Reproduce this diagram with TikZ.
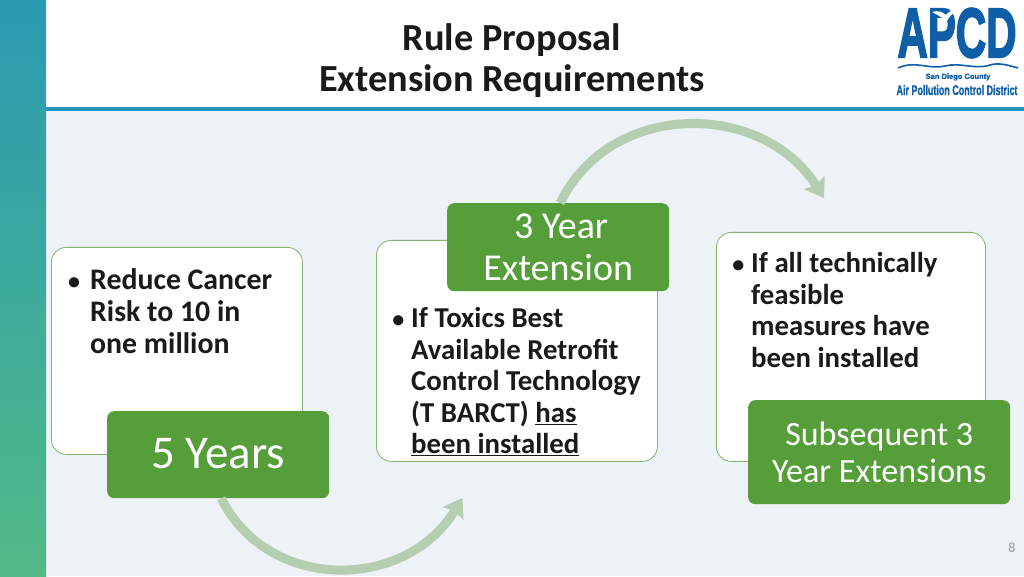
\documentclass[tikz,border=0pt]{standalone}
\usepackage{fontspec}
\setmainfont{Carlito}
\newfontfamily\logoheavy[FakeBold=3]{Liberation Sans Bold}
\newfontfamily\logosmall[FakeBold=1.2]{Liberation Sans Bold}
\usetikzlibrary{arrows.meta,calc}
\definecolor{bgc}{HTML}{EDF2F6}
\definecolor{barc}{HTML}{2492BE}
\definecolor{sidetop}{HTML}{2A9AB2}
\definecolor{sidebot}{HTML}{52BA87}
\definecolor{greenbox}{HTML}{559E3A}
\definecolor{greenline}{HTML}{82B56C}
\definecolor{arcc}{HTML}{B5CDB0}
\definecolor{logoc}{HTML}{0F5FA8}
\definecolor{titlec}{HTML}{1A1A1A}
\tikzset{
  x=1pt,y=1pt,
  panel/.style={draw=greenline,line width=.8pt,fill=white,rounded corners=15pt,inner sep=0pt,anchor=north west},
  tag/.style={fill=greenbox,rounded corners=7pt,text=white,align=center,inner sep=0pt,anchor=north west},
  body/.style={anchor=north west,align=left,inner sep=0pt,text=titlec,font=\fontsize{28.8}{31.6}\selectfont\bfseries},
  arcline/.style={draw=arcc,line width=9pt,-{Stealth[length=18pt,width=24pt,inset=3pt]}},
  logot/.style={text=logoc,inner sep=0pt},
}
\newcommand{\bul}[1]{\llap{{\fontsize{24}{24}\selectfont •}\hspace{#1}}}
\begin{document}
\begin{tikzpicture}
\useasboundingbox (0,0) rectangle (1024,576);
\fill[bgc] (0,0) rectangle (1024,576);
\fill[white] (46,576-107) rectangle (1024,576);
\fill[barc] (46,576-111) rectangle (1024,576-107);
\shade[top color=sidetop,bottom color=sidebot] (0,0) rectangle (46,576);
% title
\node[text=titlec,align=center,inner sep=0pt,font=\fontsize{38.3}{41}\selectfont\bfseries] (title) at (512,576-61) {Rule Proposal\\Extension Requirements};
% panels
\node[panel,minimum width=251pt,minimum height=207pt] (p1) at (51,576-247) {};
\node[panel,minimum width=281pt,minimum height=221pt] (p2) at (376,576-240) {};
\node[panel,minimum width=269pt,minimum height=229pt] (p3) at (716,576-232) {};
\coordinate (t1) at (462.5,576-498);
\coordinate (t2) at (824,576-198);
\node[tag,minimum width=222pt,minimum height=87pt] (five) at (107,576-411) {};
\node[text=white,inner sep=0pt,font=\fontsize{47}{52}\selectfont] (fivet) at ([yshift=1pt]five.center) {5 Years};
\draw[arcline] ([xshift=3pt]five.south) .. controls (268,576-592) and (405,576-592) .. (t1);
\node[tag,minimum width=222pt,minimum height=88pt,font=\fontsize{38}{42}\selectfont] (ext) at (447,576-203) {\hspace{6pt}3 Year\\Extension};
\draw[arcline] ([xshift=2pt]ext.north) .. controls (610,576-100) and (762,576-100) .. (t2);
\node[tag,minimum width=262pt,minimum height=104pt,font=\fontsize{34}{37}\selectfont] (subs) at (748,576-400) {Subsequent 3\\Year Extensions};
% body text
\node[body,font=\fontsize{29.8}{32}\selectfont\bfseries] (b1) at (90,576-268) {\bul{10pt}Reduce Cancer\\Risk to 10 in\\one million};
\node[body] (b2) at (411,576-307) {\bul{7pt}If Toxics Best\\Available Retrofit\\Control Technology\\(T BARCT) \underline{has}\\\underline{been installed}};
\node[body] (b3) at (751,576-252) {\bul{7pt}If all technically\\feasible\\measures have\\been installed};
% page number
\node[text=gray!80,inner sep=0pt,font=\fontsize{14}{16}\selectfont] (pg) at (1012,576-548) {8};
% logo
\node[logot,font=\logoheavy\fontsize{70}{70}\selectfont,xscale=.6,transform shape] (logo) at (957,576-33) {APCD};
\path[fill=white] (932,576-12) .. controls (938,576-10) and (943,576-12) .. (946,576-15) .. controls (949,576-11) and (952,576-10) .. (955,576-12) .. controls (952,576-14) and (950,576-16) .. (948,576-19) -- (946,576-23) -- (943,576-19) .. controls (940,576-16) and (936,576-14) .. (932,576-12) -- cycle;
\path[fill=white] (943,576-45) .. controls (947,576-42) and (950,576-44) .. (955,576-45) .. controls (950,576-47) and (947,576-46) .. (943,576-45) -- cycle;
\draw[logoc,line width=1.6pt] (898,576-68) .. controls (915,576-60) and (930,576-70) .. (945,576-66) .. controls (960,576-62) and (975,576-70) .. (990,576-65) .. controls (1000,576-62) and (1010,576-66) .. (1018,576-68);
\node[logot,font=\logosmall\fontsize{7.5}{8}\selectfont] (sd) at (958,576-77) {San Diego County};
\node[logot,font=\logosmall\fontsize{14}{14}\selectfont,xscale=.64,transform shape] (apc) at (957,576-90) {Air Pollution Control District};
\end{tikzpicture}
\end{document}
